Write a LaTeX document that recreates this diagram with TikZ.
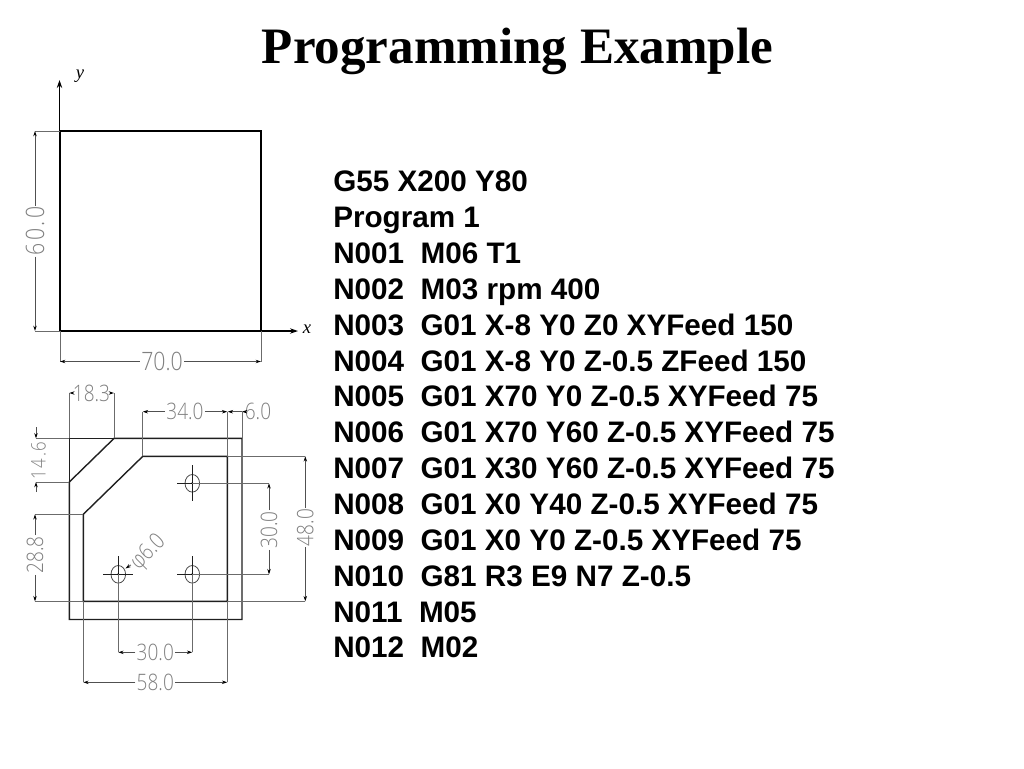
\documentclass[tikz,border=0pt]{standalone}
\usepackage{fontspec}
\usetikzlibrary{arrows.meta}
\setmainfont{Liberation Serif}
\newfontfamily\bodyfont{Liberation Sans}
\newfontfamily\cadfont[FakeStretch=0.84]{Open Sans Light}
\newfontfamily\cadwide[LetterSpace=9,FakeStretch=0.84]{Open Sans Light}
\definecolor{dimgray}{gray}{0.42}
\definecolor{cadtext}{gray}{0.5}
\definecolor{edge}{gray}{0.12}
\tikzset{
  part/.style={draw=edge,line width=1.05pt,line join=miter},
  thinpart/.style={draw=black,line width=0.85pt},
  ext/.style={draw=dimgray,line width=0.6pt},
  dimline/.style={draw=dimgray!75!black,line width=0.6pt,-{Stealth[length=4pt,width=2.6pt,black]}},
  cad/.style={font=\cadfont\fontsize{17}{17}\selectfont,text=cadtext,inner sep=0pt,outer sep=1pt},
  cadbig/.style={cad,font=\cadfont\fontsize{19}{19}\selectfont},
  code/.style={font=\bodyfont\bfseries\fontsize{22.25}{24}\selectfont,anchor=base west,inner sep=0pt},
  axis/.style={draw=black,line width=1pt,-{Stealth[length=6pt,width=4pt]}},
  axlabel/.style={font=\itshape\fontsize{14}{14}\selectfont,inner sep=0pt},
  centre/.style={draw=edge,line width=0.75pt},
  hole/.style={draw=dimgray!70!black,line width=0.6pt}
}
\begin{document}
\begin{tikzpicture}[x=0.75pt,y=-0.75pt]
\useasboundingbox (0,0) rectangle (1024,768);
\node[font=\bfseries\fontsize{38.3}{38.3}\selectfont,inner sep=0pt] (title) at (517.5,51.5) {Programming Example};

% top view
\coordinate (tl) at (60,131); \coordinate (tr) at (261,131);
\coordinate (br) at (261,331); \coordinate (bl) at (60,331);
\draw[thinpart] (tl) -- (tr) -- (br) -- (bl) -- cycle;
\coordinate (yo) at (59.5,180); \coordinate (yt) at (59.5,80);
\coordinate (xo) at (200,331); \coordinate (xt) at (298,331);
\draw[axis] (yo) -- (yt);
\draw[axis] (xo) -- (xt);
\draw[draw=black,line width=1pt] (bl) -- (xo);
\node[axlabel] (ylab) at (80,76) {y};
\node[axlabel] (xlab) at (307,329) {x};

% dimension 60.0
\coordinate (d60a) at (35,131); \coordinate (d60b) at (35,331);
\draw[ext] (tl) -- (d60a); \draw[ext] (bl) -- (d60b);
\node[cadbig,font=\cadwide\fontsize{19}{19}\selectfont,rotate=90] (d60) at (35,231) {60.0};
\draw[dimline] (d60) -- (d60a); \draw[dimline] (d60) -- (d60b);
% dimension 70.0
\coordinate (d70a) at (60,361.5); \coordinate (d70b) at (261,361.5);
\draw[ext] (bl) -- (d70a); \draw[ext] (br) -- (d70b);
\node[cadbig] (d70) at (162,361.5) {70.0};
\draw[dimline] (d70) -- (d70a); \draw[dimline] (d70) -- (d70b);

% lower part: outer and inner outlines
\coordinate (oA) at (114,438.4); \coordinate (oB) at (242,438.4);
\coordinate (oC) at (242,619.5); \coordinate (oD) at (69.3,619.5);
\coordinate (oE) at (69.3,482);
\draw[part] (oA) -- (oB) -- (oC) -- (oD) -- (oE) -- cycle;
\coordinate (oF) at (69.3,438.4);
\draw[part,line width=0.8pt] (oF) -- (oA); \draw[part,line width=0.8pt] (oF) -- (oE);
\coordinate (iA) at (142.8,456.3); \coordinate (iB) at (227.3,456.3);
\coordinate (iC) at (227.3,601.3); \coordinate (iD) at (83.3,601.3);
\coordinate (iE) at (83.3,514.3);
\draw[part] (iA) -- (iB) -- (iC) -- (iD) -- (iE) -- cycle;

% holes
\coordinate (h1) at (192.3,483.3); \coordinate (h2) at (192.3,574.3); \coordinate (h3) at (118.3,574.3);
\foreach \h in {h1,h2,h3}{
  \draw[hole] (\h) ellipse [x radius=7.3,y radius=8.8];
  \draw[centre] ([xshift=-11.2pt]\h) -- ([xshift=11.2pt]\h);
  \draw[centre] ([yshift=13.5pt]\h) -- ([yshift=-13.5pt]\h);
  \fill[black] (\h) circle [radius=1.2];
}

% extension lines
\coordinate (d183a) at (69.3,393); \coordinate (d183b) at (114,393);
\draw[ext] (oF) -- (d183a); \draw[ext] (oA) -- (d183b);
\coordinate (d340a) at (142.8,411.7); \coordinate (d340b) at (227.3,411.7); \coordinate (d60c) at (242,411.7);
\draw[ext] (iA) -- (d340a); \draw[ext] (iB) -- (d340b); \draw[ext] (oB) -- (d60c);
\coordinate (d146a) at (36,438.4); \coordinate (d146b) at (36,482);
\draw[ext] (oF) -- (d146a); \draw[ext] (oE) -- (d146b);
\coordinate (d288a) at (35,514.3); \coordinate (d288b) at (35,601.3);
\draw[ext] (iE) -- (d288a); \draw[ext] (iD) -- (d288b);
\coordinate (d48a) at (305.3,456.3); \coordinate (d48b) at (305.3,601.3);
\draw[ext] (iB) -- (d48a); \draw[ext] (iC) -- (d48b);
\coordinate (d30a) at (269,483.3); \coordinate (d30b) at (269,574.3);
\draw[ext] (h1) -- (d30a); \draw[ext] (h2) -- (d30b);
\coordinate (d30c) at (118.3,652.3); \coordinate (d30d) at (192.3,652.3);
\draw[ext] (h3) -- (d30c); \draw[ext] (h2) -- (d30d);
\coordinate (d58a) at (83.3,682.3); \coordinate (d58b) at (227.3,682.3);
\draw[ext] (iD) -- (d58a); \draw[ext] (iC) -- (d58b);

% dimension labels and arrows
\node[cad] (t183) at (91.5,393) {18.3};
\draw[dimline] (t183) -- (d183a); \draw[dimline] (t183) -- (d183b);
\node[cad] (t340) at (185,411.7) {34.0};
\draw[dimline] (t340) -- (d340a); \draw[dimline] (t340) -- (d340b);
\node[cad] (t60) at (258,411.7) {6.0};
\draw[dimline] (t60) -- (d60c);
\coordinate (d60e) at (227.8,411.7);
\draw[dimline] (d60c) -- (d60e);
\coordinate (s1) at (36,427); \coordinate (s2) at (36,492);
\draw[dimline] (s1) -- (d146a); \draw[dimline] (s2) -- (d146b);
\node[cad,font=\cadwide\fontsize{15}{15}\selectfont,rotate=90] (t146) at (38.5,460.5) {14.6};
\node[cad,rotate=90] (t288) at (35,555) {28.8};
\draw[dimline] (t288) -- (d288a); \draw[dimline] (t288) -- (d288b);
\node[cad,rotate=90] (t48) at (305.3,527.5) {48.0};
\draw[dimline] (t48) -- (d48a); \draw[dimline] (t48) -- (d48b);
\node[cad,rotate=90] (t30v) at (269,530) {30.0};
\draw[dimline] (t30v) -- (d30a); \draw[dimline] (t30v) -- (d30b);
\node[cad] (t30h) at (155.3,652.3) {30.0};
\draw[dimline] (t30h) -- (d30c); \draw[dimline] (t30h) -- (d30d);
\node[cad] (t58) at (155.3,682.3) {58.0};
\draw[dimline] (t58) -- (d58a); \draw[dimline] (t58) -- (d58b);
\node[cad,rotate=45] (tphi) at (148.5,553) {φ6.0};
\coordinate (hlead) at (125.5,568.5);
\draw[dimline] (tphi) -- (hlead);

% program text
\foreach \n/\t [count=\i from 0] in {
  a/{G55 X200 Y80},
  b/{Program 1},
  c/{N001\ \ M06 T1},
  d/{N002\ \ M03 rpm 400},
  e/{N003\ \ G01 X-8 Y0 Z0 XYFeed 150},
  f/{N004\ \ G01 X-8 Y0 Z-0.5 ZFeed 150},
  g/{N005\ \ G01 X70 Y0 Z-0.5 XYFeed 75},
  h/{N006\ \ G01 X70 Y60 Z-0.5 XYFeed 75},
  k/{N007\ \ G01 X30 Y60 Z-0.5 XYFeed 75},
  l/{N008\ \ G01 X0 Y40 Z-0.5 XYFeed 75},
  m/{N009\ \ G01 X0 Y0 Z-0.5 XYFeed 75},
  n/{N010\ \ G81 R3 E9 N7 Z-0.5},
  o/{N011\ \ M05},
  p/{N012\ \ M02}}{
  \node[code] (line\n) at (333,{191.8+35.85*\i}) {\t};
}
\end{tikzpicture}
\end{document}
